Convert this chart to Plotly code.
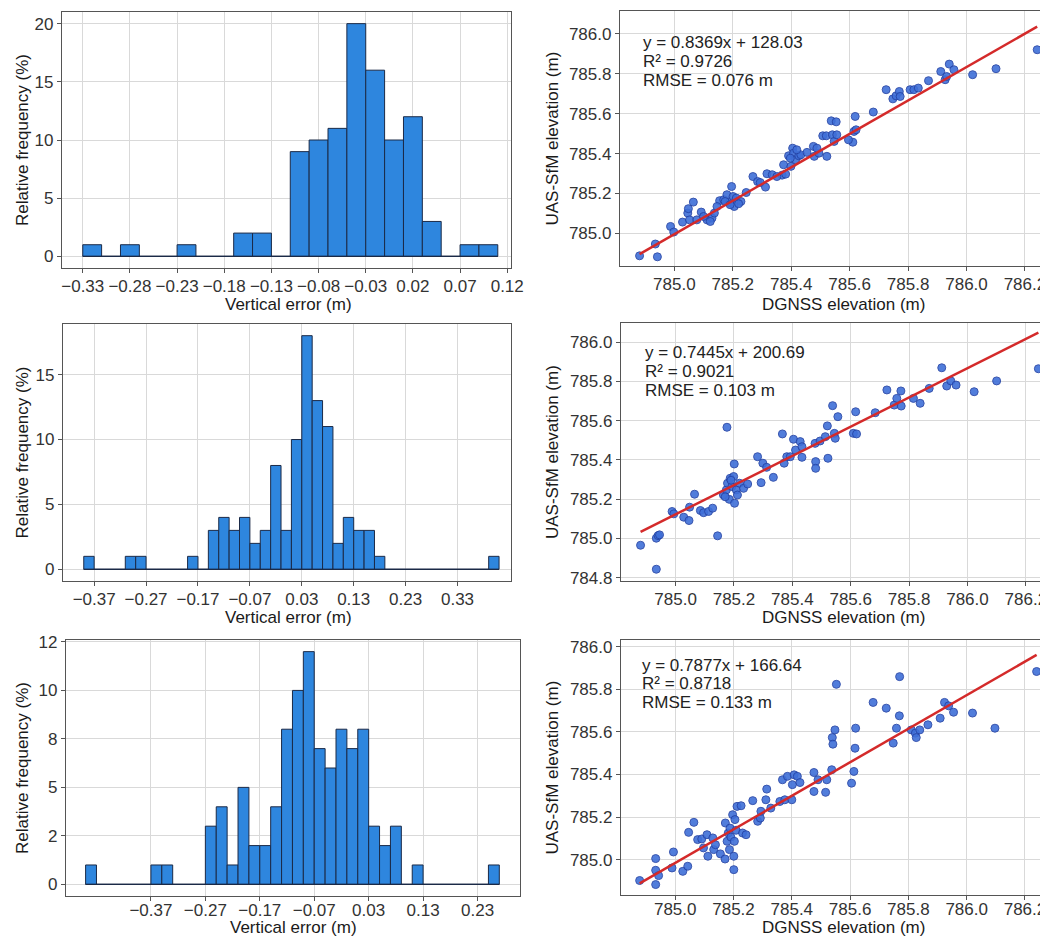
import plotly.graph_objects as go

# ---------------- DATA ----------------
BINW = 0.02
# Histogram 1
hist1_start = -0.33
hist1_counts = [1, 0, 1, 0, 0, 1, 0, 0, 2, 2, 0, 9, 10, 11, 20, 16, 10, 12, 3, 0, 1, 1]
hist1_xticks = [-0.33, -0.28, -0.23, -0.18, -0.13, -0.08, -0.03, 0.02, 0.07, 0.12]
hist1_yticks = [0, 5, 10, 15, 20]

# Histogram 2
hist2_start = -0.39
hist2_counts = [1, 0, 0, 0, 1, 1, 0, 0, 0, 0, 1, 0, 3, 4, 3, 4, 2, 3, 8, 3,
                10, 18, 13, 11, 2, 4, 3, 3, 1, 0, 0, 0, 0, 0, 0, 0, 0, 0, 0, 1]
hist2_xticks = [-0.37, -0.27, -0.17, -0.07, 0.03, 0.13, 0.23, 0.33]
hist2_yticks = [0, 5, 10, 15]

# Histogram 3
hist3_start = -0.49
hist3_counts = [1, 0, 0, 0, 0, 0, 1, 1, 0, 0, 0, 3, 4, 1, 5, 2, 2, 4, 8, 10,
                12, 7, 6, 8, 7, 8, 3, 2, 3, 0, 1, 0, 0, 0, 0, 0, 0, 1]
hist3_xticks = [-0.37, -0.27, -0.17, -0.07, 0.03, 0.13, 0.23]
hist3_yticks = [0, 2.5, 5, 7.5, 10, 12.5]
hist3_yticktext = ["0", "2", "5", "8", "10", "12"]

# Scatter 1 (DGNSS, UAS-SfM)
scatter1_points = [
    (784.881, 784.888), (784.935, 784.947), (784.942, 784.883), (784.987, 785.035),
    (784.998, 785.007), (785.028, 785.057), (785.046, 785.102), (785.048, 785.124),
    (785.065, 785.157), (785.052, 785.068), (785.077, 785.068), (785.092, 785.107),
    (785.112, 785.068), (785.129, 785.077), (785.137, 785.102), (785.155, 785.164),
    (785.169, 785.169), (785.180, 785.194), (785.189, 785.155), (785.196, 785.235),
    (785.201, 785.185), (785.205, 785.135), (785.212, 785.177), (785.228, 785.160),
    (785.246, 785.205), (785.269, 785.285), (785.285, 785.260), (785.294, 785.255),
    (785.312, 785.232), (785.317, 785.299), (785.335, 785.294), (785.369, 785.292),
    (785.374, 785.344), (785.381, 785.297), (785.391, 785.389), (785.399, 785.336),
    (785.405, 785.427), (785.408, 785.402), (785.415, 785.369), (785.426, 785.389),
    (785.433, 785.394), (785.476, 785.436), (785.479, 785.386), (785.495, 785.402),
    (785.508, 785.489), (785.520, 785.489), (785.522, 785.386), (785.537, 785.564),
    (785.541, 785.494), (785.547, 785.461), (785.554, 785.559), (785.556, 785.494),
    (785.611, 785.457), (785.615, 785.511), (785.619, 785.586), (785.622, 785.519),
    (785.681, 785.608), (785.725, 785.720), (785.748, 785.674), (785.759, 785.689),
    (785.770, 785.711), (785.807, 785.720), (785.820, 785.720), (785.835, 785.728),
    (785.870, 785.765), (785.912, 785.811), (785.927, 785.770), (785.941, 785.848),
    (785.957, 785.820), (786.021, 785.795), (786.101, 785.825), (786.242, 785.920),
    (785.174, 785.160), (785.191, 785.144), (785.220, 785.149), (785.146, 785.135),
    (785.100, 785.085), (785.123, 785.060), (785.351, 785.285), (785.419, 785.419),
    (785.397, 785.377), (785.454, 785.406), (785.488, 785.427), (785.773, 785.686),
    (785.932, 785.786), (785.596, 785.469),
]
fit1 = (0.8369, 128.03)
stats1 = ["y = 0.8369x + 128.03", "R² = 0.9726", "RMSE = 0.076 m"]

# Scatter 2
scatter2_points = [
    (784.880, 784.965), (784.934, 784.843), (784.934, 785.001), (784.940, 785.014),
    (784.945, 785.018), (784.988, 785.137), (784.994, 785.125), (785.028, 785.108),
    (785.046, 785.091), (785.048, 785.159), (785.065, 785.225), (785.085, 785.142),
    (785.096, 785.131), (785.113, 785.137), (785.127, 785.154), (785.144, 785.013),
    (785.164, 785.221), (785.174, 785.247), (785.176, 785.566), (785.178, 785.281),
    (785.184, 785.199), (785.187, 785.306), (785.193, 785.264), (785.199, 785.315),
    (785.201, 785.379), (785.202, 785.179), (785.208, 785.247), (785.219, 785.281),
    (785.233, 785.255), (785.247, 785.277), (785.281, 785.416), (785.293, 785.284),
    (785.299, 785.383), (785.312, 785.362), (785.335, 785.311), (785.366, 785.532),
    (785.372, 785.383), (785.381, 785.416), (785.393, 785.416), (785.404, 785.505),
    (785.411, 785.450), (785.427, 785.493), (785.433, 785.467), (785.433, 785.413),
    (785.478, 785.484), (785.480, 785.391), (785.480, 785.357), (785.495, 785.496),
    (785.513, 785.518), (785.520, 785.573), (785.522, 785.408), (785.538, 785.676),
    (785.544, 785.535), (785.547, 785.510), (785.556, 785.620), (785.609, 785.535),
    (785.617, 785.645), (785.620, 785.532), (785.684, 785.640), (785.724, 785.756),
    (785.749, 785.679), (785.758, 785.713), (785.772, 785.751), (785.773, 785.674),
    (785.815, 785.713), (785.838, 785.688), (785.869, 785.764), (785.912, 785.869),
    (785.929, 785.776), (785.943, 785.802), (785.961, 785.781), (786.023, 785.747),
    (786.100, 785.802), (786.243, 785.864),
    (785.190, 785.296), (785.212, 785.221), (785.170, 785.212),
]
fit2 = (0.7445, 200.69)
stats2 = ["y = 0.7445x + 200.69", "R² = 0.9021", "RMSE = 0.103 m"]

# Scatter 3
scatter3_points = [
    (784.878, 784.902), (784.933, 785.005), (784.933, 784.950), (784.933, 784.883),
    (784.943, 784.925), (784.989, 784.961), (784.994, 785.036), (785.026, 784.945),
    (785.043, 784.969), (785.046, 785.128), (785.064, 785.175), (785.077, 785.094),
    (785.091, 785.097), (785.097, 785.055), (785.109, 785.117), (785.112, 785.016),
    (785.129, 785.102), (785.132, 785.047), (785.138, 785.070), (785.155, 785.027),
    (785.171, 785.003), (785.172, 785.172), (785.178, 785.086), (785.182, 785.125),
    (785.186, 785.047), (785.188, 785.148), (785.191, 785.106), (785.197, 785.211),
    (785.201, 785.016), (785.201, 784.953), (785.203, 785.086), (785.205, 785.188),
    (785.209, 785.138), (785.212, 785.250), (785.226, 785.253), (785.231, 785.125),
    (785.243, 785.117), (785.266, 785.277), (785.283, 785.180), (785.292, 785.195),
    (785.294, 785.227), (785.311, 785.281), (785.314, 785.331), (785.328, 785.242),
    (785.359, 785.273), (785.368, 785.375), (785.376, 785.281), (785.385, 785.391),
    (785.400, 785.281), (785.402, 785.352), (785.408, 785.398), (785.419, 785.391),
    (785.428, 785.362), (785.476, 785.409), (785.476, 785.320), (785.490, 785.375),
    (785.516, 785.316), (785.520, 785.375), (785.537, 785.422), (785.539, 785.573),
    (785.541, 785.542), (785.548, 785.609), (785.553, 785.823), (785.605, 785.359),
    (785.613, 785.414), (785.617, 785.523), (785.619, 785.617), (785.679, 785.738),
    (785.724, 785.711), (785.748, 785.547), (785.759, 785.617), (785.769, 785.675),
    (785.770, 785.859), (785.810, 785.609), (785.824, 785.594), (785.827, 785.573),
    (785.839, 785.609), (785.867, 785.633), (785.909, 785.664), (785.924, 785.738),
    (785.938, 785.722), (785.955, 785.692), (786.020, 785.688), (786.097, 785.617),
    (786.240, 785.883),
]
fit3 = (0.7877, 166.64)
stats3 = ["y = 0.7877x + 166.64", "R² = 0.8718", "RMSE = 0.133 m"]

scatter_xticks = [785.0, 785.2, 785.4, 785.6, 785.8, 786.0, 786.2]
scatter1_yticks = [785.0, 785.2, 785.4, 785.6, 785.8, 786.0]
scatter2_yticks = [784.8, 785.0, 785.2, 785.4, 785.6, 785.8, 786.0]
scatter3_yticks = [785.0, 785.2, 785.4, 785.6, 785.8, 786.0]

VE = "Vertical error (m)"
RF = "Relative frequency (%)"
DG = "DGNSS elevation (m)"
UA = "UAS-SfM elevation (m)"

# ---------------- STYLE / LAYOUT ----------------
OFF = 8                       # page body margin in which the figure div sits
W, H = 1048 - OFF, 938 - OFF  # figure fills the rest of the window
FONT = "Liberation Sans, Arial, sans-serif"
BAR = "#2E86DE"
BAR_EDGE = "#1B2A47"
PT = "#3F6FD8"
PT_EDGE = "#2544A6"
LINE = "#D42A2A"
GRID = "#d9d9d9"
FRAME = "#555555"


def fx(page_x):
    return (page_x - OFF) / W


def fy(page_y):
    return 1 - (page_y - OFF) / H


def dom_x(a, b):
    return [max(fx(a), 0.0), min(fx(b), 1.0)]


def dom_y(top, bottom):
    return [max(fy(bottom), 0.0), min(fy(top), 1.0)]


fig = go.Figure()


def add_hist(n, start, counts):
    xa, ya = ("x" if n == 1 else f"x{n}"), ("y" if n == 1 else f"y{n}")
    centers = [start + BINW * (i + 0.5) for i in range(len(counts))]
    end = start + BINW * len(counts)
    fig.add_trace(go.Scatter(x=[start, end], y=[0, 0], mode="lines",
                             line=dict(color=BAR_EDGE, width=1.2),
                             xaxis=xa, yaxis=ya, hoverinfo="skip"))
    fig.add_trace(go.Bar(x=centers, y=counts, width=BINW,
                         marker=dict(color=BAR, line=dict(color=BAR_EDGE, width=1)),
                         xaxis=xa, yaxis=ya))


def add_scatter(n, pts, fit):
    xa, ya = f"x{n}", f"y{n}"
    xs = [p[0] for p in pts]
    ys = [p[1] for p in pts]
    fig.add_trace(go.Scatter(x=xs, y=ys, mode="markers",
                             marker=dict(size=8, color=PT, opacity=0.9,
                                         line=dict(color=PT_EDGE, width=1)),
                             xaxis=xa, yaxis=ya))
    x0, x1 = min(xs), max(xs)
    fig.add_trace(go.Scatter(x=[x0, x1], y=[fit[0] * x0 + fit[1], fit[0] * x1 + fit[1]],
                             mode="lines", line=dict(color=LINE, width=2.5),
                             xaxis=xa, yaxis=ya))


add_hist(1, hist1_start, hist1_counts)
add_scatter(2, scatter1_points, fit1)
add_hist(3, hist2_start, hist2_counts)
add_scatter(4, scatter2_points, fit2)
add_hist(5, hist3_start, hist3_counts)
add_scatter(6, scatter3_points, fit3)

common = dict(showgrid=True, gridcolor=GRID, gridwidth=1.3, showline=True,
              linecolor=FRAME, linewidth=1.3, ticks="outside", ticklen=4,
              tickcolor=FRAME, tickwidth=1.2, zeroline=False, automargin=False,
              mirror=True,
              tickfont=dict(size=17, color="#333333", family=FONT))


def xax(domain, rng, ticks, anchor, fmt, lift=2):
    return dict(common, domain=domain, range=rng, tickvals=ticks, anchor=anchor,
                ticklabeloverflow="allow", tickformat=fmt, ticklen=4,
                ticklabelstandoff=-lift)


def yax(domain, rng, ticks, anchor, mirror=True, text=None, fmt=None):
    d = dict(common, domain=domain, range=rng, tickvals=ticks, anchor=anchor, mirror=mirror)
    if text:
        d["ticktext"] = text
    if fmt:
        d["tickformat"] = fmt
    return d


# panel frames in page pixels: (left, right, top, bottom)
P_H1 = (62, 511, 12, 268)
P_S1 = (620, 1048, 11, 266)
P_H2 = (63, 511, 324, 581)
P_S2 = (621, 1048, 323, 581)
P_H3 = (66, 520, 640, 896)
P_S3 = (621, 1048, 640, 895)

fig.update_layout(
    width=W, height=H, margin=dict(l=0, r=0, t=0, b=0, autoexpand=False),
    paper_bgcolor="white", plot_bgcolor="white", showlegend=False,
    font=dict(family=FONT),
    xaxis=xax(dom_x(P_H1[0], P_H1[1]), [-0.352, 0.124], hist1_xticks, "y", ".2f"),
    yaxis=yax(dom_y(P_H1[2], P_H1[3]), [-1, 21], hist1_yticks, "x"),
    xaxis2=xax(dom_x(P_S1[0], P_S1[1]), [784.814, 786.279], scatter_xticks, "y2", ".1f"),
    yaxis2=yax(dom_y(P_S1[2], P_S1[3]), [784.837, 786.114], scatter1_yticks, "x2", mirror=False, fmt=".1f"),
    xaxis3=xax(dom_x(P_H2[0], P_H2[1]), [-0.430, 0.433], hist2_xticks, "y3", ".2f"),
    yaxis3=yax(dom_y(P_H2[2], P_H2[3]), [-0.9, 18.9], hist2_yticks, "x3"),
    xaxis4=xax(dom_x(P_S2[0], P_S2[1]), [784.813, 786.276], scatter_xticks, "y4", ".1f"),
    yaxis4=yax(dom_y(P_S2[2], P_S2[3]), [784.783, 786.097], scatter2_yticks, "x4", mirror=False, fmt=".1f"),
    xaxis5=xax(dom_x(P_H3[0], P_H3[1]), [-0.526, 0.308], hist3_xticks, "y5", ".2f", lift=6),
    yaxis5=yax(dom_y(P_H3[2], P_H3[3]), [-0.6, 12.6], hist3_yticks, "x5", text=hist3_yticktext),
    xaxis6=xax(dom_x(P_S3[0], P_S3[1]), [784.814, 786.279], scatter_xticks, "y6", ".1f", lift=6),
    yaxis6=yax(dom_y(P_S3[2], P_S3[3]), [784.834, 786.031], scatter3_yticks, "x6", mirror=False, fmt=".1f"),
)

tfont = dict(size=17, color="#1a1a1a", family=FONT)

# axis titles (page-pixel positions)
x_titles = [
    (VE, 288, 304, "middle"), (DG, 843, 304, "middle"),
    (VE, 288, 617, "middle"), (DG, 843, 617, "middle"),
    (VE, 293, 938, "bottom"), (DG, 843, 938, "bottom"),
]
for txt, xc, yc, anc in x_titles:
    fig.add_annotation(text=txt, xref="paper", yref="paper", x=fx(xc), y=fy(yc),
                       xanchor="center", yanchor=anc, showarrow=False, font=tfont,
                       borderpad=0)

y_titles = [
    (RF, 22, P_H1), (UA, 552, P_S1),
    (RF, 22, P_H2), (UA, 552, P_S2),
    (RF, 22, P_H3), (UA, 552, P_S3),
]
for txt, xc, p in y_titles:
    fig.add_annotation(text=txt, xref="paper", yref="paper", x=fx(xc),
                       y=fy((p[2] + p[3]) / 2), textangle=-90,
                       xanchor="center", yanchor="middle", showarrow=False, font=tfont)

# Statistics text in scatter panels
stat_pos = [
    (stats1, 641, [42.3, 61.7, 80.7]),
    (stats2, 643, [352.3, 371.7, 390.7]),
    (stats3, 640, [665.0, 683.3, 702.7]),
]
for lines, xpx, ypxs in stat_pos:
    for txt, ypx in zip(lines, ypxs):
        fig.add_annotation(text=txt, xref="paper", yref="paper",
                           x=fx(xpx), y=fy(ypx), xanchor="left", yanchor="middle",
                           showarrow=False, font=dict(size=17, color="#222222", family=FONT))

fig.write_html("out.html")
